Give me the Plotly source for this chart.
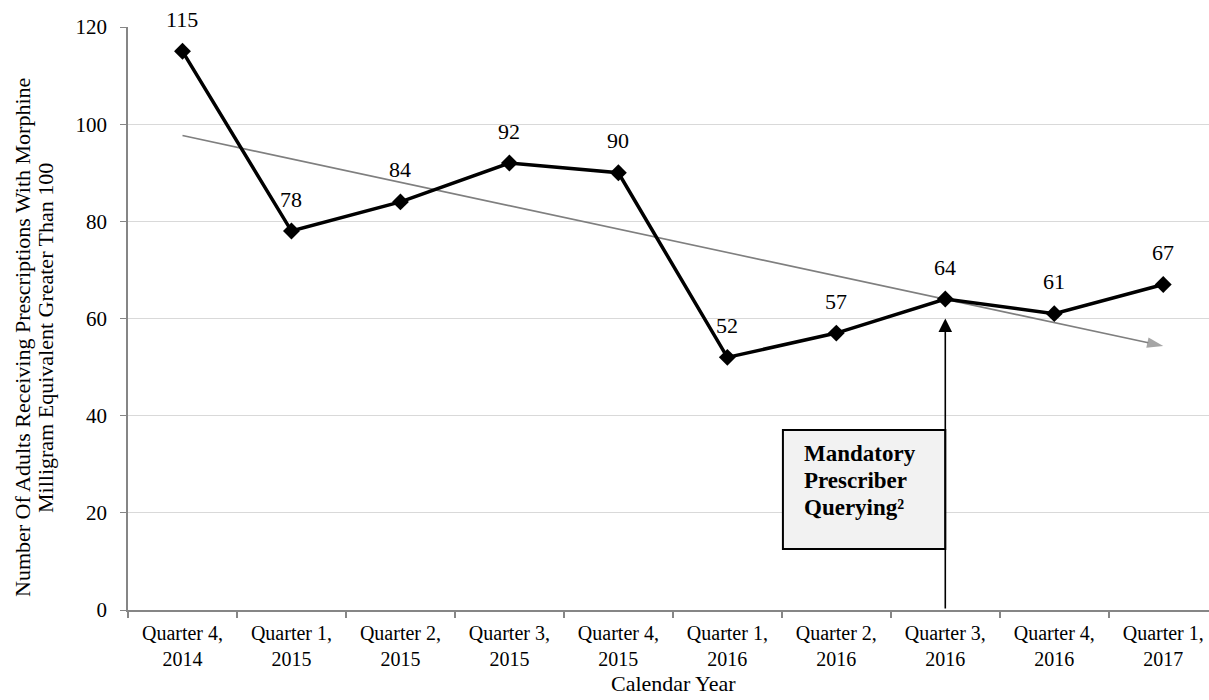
import numpy as np
import plotly.graph_objects as go

categories = ["Quarter 4,<br>2014", "Quarter 1,<br>2015", "Quarter 2,<br>2015", "Quarter 3,<br>2015",
              "Quarter 4,<br>2015", "Quarter 1,<br>2016", "Quarter 2,<br>2016", "Quarter 3,<br>2016",
              "Quarter 4,<br>2016", "Quarter 1,<br>2017"]
values = [115, 78, 84, 92, 90, 52, 57, 64, 61, 67]
y_ticks = [0, 20, 40, 60, 80, 100, 120]
x_title = "Calendar Year"
y_title_lines = ["Number Of Adults Receiving Prescriptions With Morphine",
                 "Milligram Equivalent Greater Than 100"]
box_lines = ["<b>Mandatory</b>", "<b>Prescriber</b>", "<b>Querying²</b>"]

FONT = "Liberation Serif, Times New Roman, serif"
idx = np.arange(len(values))
slope, intercept = np.polyfit(idx, values, 1)
trend = slope * idx + intercept

# figure geometry (body margin removed via post_script)
W, H = 1209, 700
ML, MR, MT, MB = 128, 0, 27, 90
PW = W - ML - MR
PH = H - MT - MB
Y_MAX = 120

def py_to_val(py):
    return (MT + PH - py) / PH * Y_MAX

def py_to_paper(py):
    return (MT + PH - py) / PH

def px_to_paper(px):
    return (px - ML) / PW

fig = go.Figure()
# linear trendline with arrow at end
fig.add_trace(go.Scatter(
    x=[idx[0], idx[-1]], y=[trend[0], trend[-1]], mode="lines+markers",
    line=dict(color="#7f7f7f", width=1.6),
    marker=dict(symbol=["circle", "arrow"], size=[0, 17], color="#7f7f7f",
                angleref="previous", line=dict(width=0)),
    hoverinfo="skip", showlegend=False))
fig.add_trace(go.Scatter(
    x=idx, y=values, mode="lines+markers",
    line=dict(color="black", width=3.5),
    marker=dict(symbol="diamond", size=13, color="black"),
    showlegend=False))

for i, v in zip(idx, values):
    fig.add_annotation(x=i, y=v, text=str(v), showarrow=False, yshift=32,
                       font=dict(family=FONT, size=22, color="black"))

# annotation box
fig.add_shape(type="rect", xref="x", yref="y", x0=5.51, x1=7.0,
              y0=py_to_val(549), y1=py_to_val(430),
              fillcolor="#f2f2f2", line=dict(color="black", width=2))
for line_text, py in zip(box_lines, [453, 480, 507]):
    fig.add_annotation(x=5.685, y=py_to_val(py), xref="x", yref="y",
                       xanchor="left", yanchor="middle", align="left", showarrow=False,
                       text=line_text, font=dict(family=FONT, size=23, color="black"))
# vertical arrow
fig.add_annotation(x=7, y=60, ax=7, ay=0, xref="x", yref="y", axref="x", ayref="y",
                   showarrow=True, arrowhead=2, arrowsize=1.7, arrowwidth=1.6,
                   arrowcolor="black", text="")

# y-axis title as two lines
for line_text, px in zip(y_title_lines, [22, 45]):
    fig.add_annotation(xref="paper", yref="paper", x=px_to_paper(px), y=py_to_paper(338),
                       xanchor="center", yanchor="middle", textangle=-90, showarrow=False,
                       text=line_text, font=dict(family=FONT, size=22, color="black"))
# x-axis title
fig.add_annotation(xref="paper", yref="paper", x=px_to_paper(673), y=py_to_paper(683),
                   xanchor="center", yanchor="middle", showarrow=False,
                   text=x_title, font=dict(family=FONT, size=22, color="black"))

fig.update_layout(
    width=W, height=H,
    margin=dict(l=ML, r=MR, t=MT, b=MB, autoexpand=False),
    plot_bgcolor="white", paper_bgcolor="white",
    font=dict(family=FONT, size=20, color="black"),
    xaxis=dict(
        tickmode="array", tickvals=list(idx), ticktext=categories,
        range=[-0.5, 9.42], showgrid=False, zeroline=False, automargin=False,
        showline=True, linecolor="#868686", linewidth=1.5,
        ticks="", tickfont=dict(family=FONT, size=20), ticklabelstandoff=4,
        ticklabeloverflow="allow",
        minor=dict(tickvals=[i - 0.5 for i in range(11)], ticks="outside",
                   ticklen=6, tickcolor="#868686", tickwidth=1.5),
    ),
    yaxis=dict(
        range=[0, Y_MAX], tickvals=y_ticks, showgrid=True, gridcolor="#d9d9d9", gridwidth=1.2,
        zeroline=False, showline=True, linecolor="#868686", linewidth=1.5, automargin=False,
        ticks="outside", ticklen=6, tickcolor="#868686", ticklabelstandoff=9,
        tickfont=dict(family=FONT, size=21),
    ),
)

fig.write_html("out.html", config={"displayModeBar": False},
               post_script="document.body.style.margin='0';document.body.style.overflow='hidden';")
